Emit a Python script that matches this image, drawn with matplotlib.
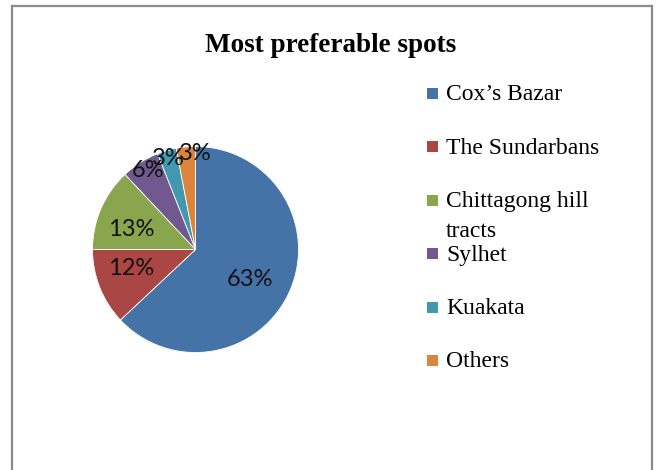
import numpy as np
import matplotlib
matplotlib.use("Agg")
import matplotlib.pyplot as plt
from matplotlib.patches import Rectangle
from matplotlib.lines import Line2D

# data
spots = ['Cox\u2019s Bazar', 'The Sundarbans', 'Chittagong hill\ntracts', 'Sylhet', 'Kuakata', 'Others']
share = [63, 12, 13, 6, 3, 3]
colors = ['#4572A7', '#AA4643', '#89A54E', '#71588F', '#4198AF', '#DB843D']

# label placement (radius fraction, angle shift in degrees) like the Excel best-fit
lab_r = [0.60, 0.65, 0.65, 0.89, 0.92, 0.93]
lab_shift = [-5.5, -5.3, 6.4, -1.4, 0.2, -5.1]

W, H = 658.0, 470.0
fig = plt.figure(figsize=(W/100, H/100), dpi=100, facecolor='white')

# pie axes: centre (195.5, 249.5) px, radius 103 px
cx, cy, R = 195.5, 249.5, 103.0
ax = fig.add_axes([(cx-R)/W, (H-cy-R)/H, 2*R/W, 2*R/H])
wedges, _ = ax.pie(share, colors=colors, startangle=90, counterclock=False, radius=1.0,
                   wedgeprops=dict(edgecolor='white', linewidth=0.6))
ax.set_xlim(-1, 1)
ax.set_ylim(-1, 1)
ax.axis('off')

for w, v, r, s in zip(wedges, share, lab_r, lab_shift):
    ang = np.radians((w.theta1 + w.theta2)/2.0 + s)
    ax.text(r*np.cos(ang), r*np.sin(ang), '%d%%' % v, ha='center', va='center',
            fontsize=17, family='Lato', color='#111111')

# title
fig.text(331/W, 1-52/H, 'Most preferable spots', ha='center', va='baseline',
         fontsize=19.5, fontweight='bold', family='Liberation Serif')

# legend drawn by hand so the wrapped entry keeps its square on the first line
leg_y = [93, 146.5, 200, 253.5, 307, 360]
for y, lab, c in zip(leg_y, spots, colors):
    fig.add_artist(Rectangle((427/W, 1-(y+5.5)/H), 11/W, 11/H, transform=fig.transFigure,
                             facecolor=c, edgecolor='none'))
    for i, part in enumerate(lab.split('\n')):
        fig.text(446/W, 1-(y+7+30*i)/H, part, ha='left', va='baseline', fontsize=17,
                 family='Liberation Serif')

# chart border (bottom edge is cut off)
bc = '#8c8c8c'
for xs, ys in [([12, 652], [6, 6]), ([12, 12], [6, 470]), ([652, 652], [6, 470])]:
    fig.add_artist(Line2D([x/W for x in xs], [1-y/H for y in ys], color=bc, linewidth=1.6,
                          transform=fig.transFigure))

fig.savefig('out.png', dpi=100, facecolor='white')
